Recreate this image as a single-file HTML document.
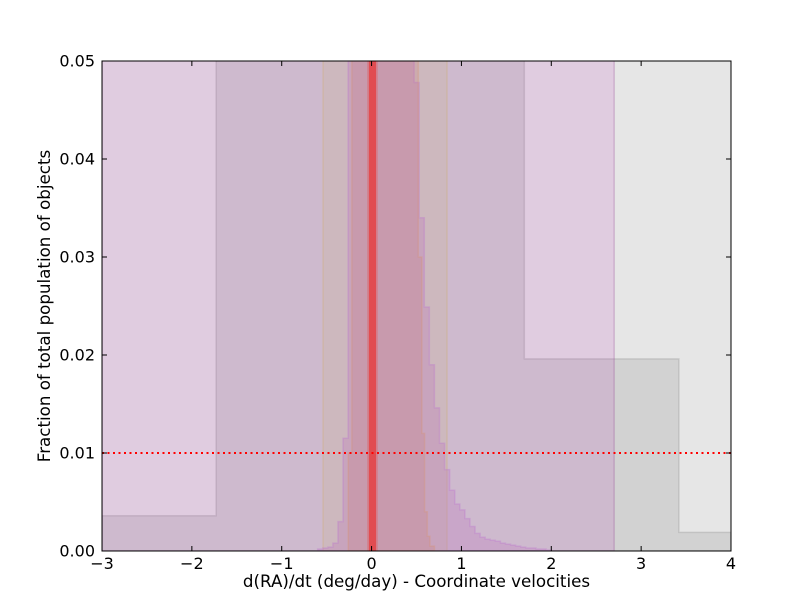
<!DOCTYPE html>
<html><head><meta charset="utf-8"><style>
html,body{margin:0;padding:0;background:#fff;}
svg{display:block;font-family:"DejaVu Sans","Liberation Sans",sans-serif;}
</style></head><body>
<svg id="chart" width="812" height="612" xmlns="http://www.w3.org/2000/svg">
<defs><clipPath id="plotclip"><rect x="102" y="61" width="629" height="490"/></clipPath></defs>
<rect width="812" height="612" fill="#fff"/>
<g id="marks" clip-path="url(#plotclip)"></g>
<g id="axes"></g>
</svg>
<script>
// data
const grayEdges = [-3, -1.73, 1.7, 3.42, 4];
const grayValues = [0.0036, 0.1, 0.0196, 0.0019];
const gray2Edges = [2.7, 4];
const gray2Values = [0.1];
const pinkEdges = [-3, 2.7];
const pinkValues = [0.1];
const tanEdges = [-0.54, 0.84];
const tanValues = [0.1];
const tanCurveEdges = [-0.26, -0.22, 0.52, 0.56, 0.59, 0.62, 0.65, 0.7];
const tanCurveValues = [0.01, 0.1, 0.03, 0.012, 0.004, 0.0015, 0.0005];
const fineStart = -0.6;
const fineWidth = 0.0565;
const fineValues = [0.0002,0.0003,0.0004,0.0008,0.003,0.0115,0.1,0.1,0.1,0.1,0.1,0.1,0.1,0.1,0.1,0.1,0.1,0.1,0.1,0.0478,0.034,0.0249,0.019,0.0146,0.011,0.0083,0.0062,0.0048,0.0042,0.0033,0.0025,0.0018,0.0014,0.0012,0.0011,0.001,0.0008,0.0007,0.0006,0.0005,0.0004,0.0003,0.0003,0.0002,0.0002,0.0001];
const redOuterEdges = [-0.05, 0.07];
const redEdges = [-0.03, 0.05];
const redValues = [0.1];
const hlineValue = 0.01;
const xTicks = [-3, -2, -1, 0, 1, 2, 3, 4];
const xTickLabels = ["\u22123", "\u22122", "\u22121", "0", "1", "2", "3", "4"];
const yTicks = [0, 0.01, 0.02, 0.03, 0.04, 0.05];
const yTickLabels = ["0.00", "0.01", "0.02", "0.03", "0.04", "0.05"];

const X0 = 102, X1 = 731, Y0 = 551, Y1 = 61;
const xMin = -3, xMax = 4, yMin = 0, yMax = 0.05;
function sx(v) { return X0 + (v - xMin) / (xMax - xMin) * (X1 - X0); }
function sy(v) { return Y0 - (v - yMin) / (yMax - yMin) * (Y0 - Y1); }
const NS = "http://www.w3.org/2000/svg";
const marks = document.getElementById("marks");
const axes = document.getElementById("axes");

function stepPath(edges, vals) {
  let d = "M" + sx(edges[0]) + "," + sy(0);
  for (let i = 0; i < vals.length; i++) {
    d += " L" + sx(edges[i]) + "," + sy(vals[i]) + " L" + sx(edges[i + 1]) + "," + sy(vals[i]);
  }
  d += " L" + sx(edges[edges.length - 1]) + "," + sy(0) + " Z";
  return d;
}
function drawHist(edges, vals, fill, stroke, name) {
  const p = document.createElementNS(NS, "path");
  p.setAttribute("d", stepPath(edges, vals));
  p.setAttribute("fill", fill);
  p.setAttribute("stroke", stroke);
  p.setAttribute("stroke-width", "1.5");
  
  
  marks.appendChild(p);
}
drawHist(grayEdges, grayValues, "rgba(128,128,128,0.2)", "rgba(128,128,128,0.25)", "gray-histogram");
drawHist(gray2Edges, gray2Values, "rgba(128,128,128,0.2)", "none", "gray-histogram-2");
drawHist(pinkEdges, pinkValues, "rgba(152,85,152,0.3)", "rgba(152,85,152,0.3)", "pink-histogram");
drawHist(tanEdges, tanValues, "rgba(205,175,120,0.18)", "rgba(205,175,120,0.35)", "tan-histogram");
const fineEdges = [];
for (let i = 0; i <= fineValues.length; i++) fineEdges.push(fineStart + i * fineWidth);
drawHist(fineEdges, fineValues, "rgba(190,120,190,0.3)", "rgba(190,120,205,0.35)", "fine-histogram");
drawHist(tanCurveEdges, tanCurveValues, "rgba(200,100,90,0.15)", "rgba(220,150,110,0.3)", "tan-curve-histogram");
drawHist(redOuterEdges, redValues, "rgba(235,60,60,0.25)", "none", "red-histogram-outer");
drawHist(redEdges, redValues, "rgba(235,40,40,0.6)", "none", "red-histogram");

const hl = document.createElementNS(NS, "line");
hl.setAttribute("x1", X0); hl.setAttribute("x2", X1);
hl.setAttribute("y1", sy(hlineValue)); hl.setAttribute("y2", sy(hlineValue));
hl.setAttribute("stroke", "#ff0000"); hl.setAttribute("stroke-width", "2");
hl.setAttribute("stroke-dasharray", "2,3.5");


marks.appendChild(hl);

function line(x1, y1, x2, y2, name) {
  const l = document.createElementNS(NS, "line");
  l.setAttribute("x1", x1); l.setAttribute("y1", y1); l.setAttribute("x2", x2); l.setAttribute("y2", y2);
  l.setAttribute("stroke", "#000"); l.setAttribute("stroke-width", "1");
  
  
  axes.appendChild(l);
}
function text(x, y, s, anchor, name, rot, size) {
  const t = document.createElementNS(NS, "text");
  t.setAttribute("x", x); t.setAttribute("y", y);
  t.setAttribute("text-anchor", anchor);
  t.setAttribute("font-size", size);
  t.setAttribute("fill", "#000");
  if (rot) t.setAttribute("transform", "rotate(-90 " + x + " " + y + ")");
  t.textContent = s;
  
  
  axes.appendChild(t);
}
const frame = document.createElementNS(NS, "rect");
frame.setAttribute("x", X0); frame.setAttribute("y", Y1);
frame.setAttribute("width", X1 - X0); frame.setAttribute("height", Y0 - Y1);
frame.setAttribute("fill", "none"); frame.setAttribute("stroke", "#000"); frame.setAttribute("stroke-width", "1");


axes.appendChild(frame);
xTicks.forEach((v, i) => {
  const x = sx(v);
  line(x, Y0, x, Y0 - 5, "x-tick");
  line(x, Y1, x, Y1 + 5, "x-tick-top");
  text(x, Y0 + 18, xTickLabels[i], "middle", "x-tick-label", false, 16);
});
yTicks.forEach((v, i) => {
  const y = sy(v);
  line(X0, y, X0 + 5, y, "y-tick");
  line(X1, y, X1 - 5, y, "y-tick-right");
  text(X0 - 7, y + 5.5, yTickLabels[i], "end", "y-tick-label", false, 16);
});
text((X0 + X1) / 2, 587, "d(RA)/dt (deg/day) - Coordinate velocities", "middle", "x-axis-title", false, 16.7);
text(50, 306, "Fraction of total population of objects", "middle", "y-axis-title", true, 16.7);
</script>
</body></html>
